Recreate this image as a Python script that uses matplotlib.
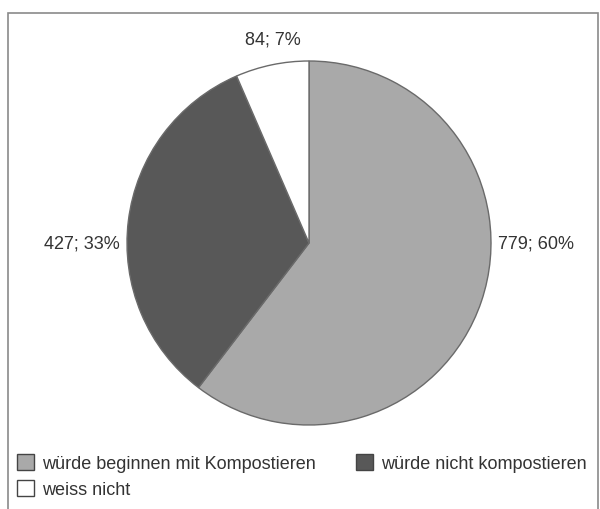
import matplotlib.pyplot as plt
from matplotlib.patches import Rectangle, Patch

# data
categories = ["würde beginnen mit Kompostieren", "würde nicht kompostieren", "weiss nicht"]
counts = [779, 427, 84]
percents = [60, 33, 7]
colors = ["#a9a9a9", "#585858", "#ffffff"]

plt.rcParams["font.family"] = ["Liberation Sans", "DejaVu Sans"]

fig = plt.figure(figsize=(6, 5.1), dpi=100)
fig.patch.set_facecolor("white")

# outer chart frame
fig.add_artist(Rectangle((8 / 600, -0.01), 590 / 600, 1 - 14 / 510 + 0.01,
                         transform=fig.transFigure, fill=False,
                         edgecolor="#8a8a8a", lw=1.2))

# pie axes: centre ~ (309, 244) px, radius ~ 182 px
ax = fig.add_axes([(309 - 182) / 600, 1 - (244 + 182) / 510, 364 / 600, 364 / 510])
wedges, _ = ax.pie(counts, colors=colors, startangle=90, counterclock=False,
                   wedgeprops=dict(edgecolor="#6a6a6a", linewidth=1.0))
ax.set_xlim(-1, 1)
ax.set_ylim(-1, 1)
ax.set_aspect("auto")

# value labels outside the slices
label_pos = [(1.25, 0.0), (-1.25, 0.0), (-0.2, 1.12)]
for (x, y), n, p in zip(label_pos, counts, percents):
    ax.text(x, y, f"{n}; {p}%", ha="center", va="center", fontsize=13,
            color="#333333", clip_on=False)

# legend, filled row by row (matplotlib fills column-wise, so reorder)
order = [0, 2, 1]
handles = [Patch(facecolor=colors[i], edgecolor="#444444", linewidth=1.0) for i in order]
labels = [categories[i] for i in order]
fig.legend(handles, labels, loc="upper left", bbox_to_anchor=(17 / 600, 1 - 455 / 510),
           ncol=2, frameon=False, fontsize=13, handlelength=0.95, handleheight=0.95,
           handletextpad=0.45, columnspacing=2.2, labelspacing=0.45, borderpad=0,
           borderaxespad=0, labelcolor="#333333")

fig.savefig("out.png", dpi=100)
